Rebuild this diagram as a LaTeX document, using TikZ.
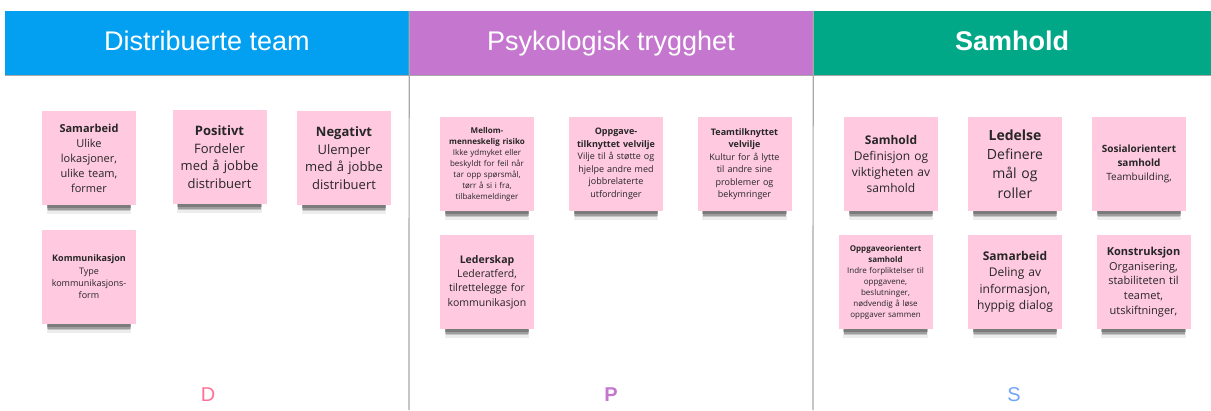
\documentclass[tikz,border=0pt]{standalone}
\usepackage{fontspec}
\usetikzlibrary{shadows}
\newfontfamily\headfont{Liberation Sans}
\newfontfamily\notefont{Open Sans}
\definecolor{dblue}{HTML}{03A0F1}
\definecolor{ppurple}{HTML}{C577D0}
\definecolor{sgreen}{HTML}{00A888}
\definecolor{notepink}{HTML}{FFC9DF}
\definecolor{dline}{HTML}{A8A8A8}
\definecolor{dpink}{HTML}{FF7096}
\definecolor{sblue}{HTML}{6FA6F8}
\newcommand\nsize[2]{\notefont\fontsize{#1}{#2}\selectfont}
\begin{document}
\begin{tikzpicture}[x=1pt, y=-1pt,
   head/.style={minimum width=404pt, minimum height=64pt, inner sep=0pt,
                text height=19.5pt, text depth=5.5pt,
                text=white, font=\headfont\fontsize{27}{30}\selectfont},
   sticky/.style={fill=notepink, text=black!85, align=center,
                  text width=90pt, inner xsep=2pt, inner ysep=0pt,
                  minimum height=94pt,
                  drop shadow={shadow xshift=0pt, shadow yshift=-15pt,
                               shadow scale=.9, fill=black, opacity=.07},
                  drop shadow={shadow xshift=0pt, shadow yshift=-13pt,
                               shadow scale=.88, fill=black, opacity=.17},
                  drop shadow={shadow xshift=0pt, shadow yshift=-11pt,
                               shadow scale=.89, fill=black, opacity=.2},
                  drop shadow={shadow xshift=0pt, shadow yshift=-9pt,
                               shadow scale=.9, fill=black, opacity=.22}},
   divider/.style={draw=dline, line width=1.2pt},
   tag/.style={font=\headfont\fontsize{20}{22}\selectfont}]

\useasboundingbox (0,0) rectangle (1211,410);

% headers
\node[head, fill=dblue] (hD) at (207,43) {Distribuerte team};
\node[head, fill=ppurple] (hP) at (611,43) {Psykologisk trygghet};
\node[head, fill=sgreen, minimum width=398pt] (hS) at (1012,43) {\bfseries Samhold};

\draw[divider] (hD.south west) -- (hS.south east);
\draw[divider] (hD.north east) -- (409,410);
\draw[divider] (hP.north east) -- (813,410);

% Distribuerte team
\node[sticky, font=\nsize{11}{15}] (dSamarbeid) at (89,158)
  {\textbf{Samarbeid}\\Ulike\\lokasjoner,\\ulike team,\\former};
\node[sticky, font=\nsize{13}{17.7}] (dPositivt) at (219.5,157)
  {\textbf{Positivt}\\Fordeler\\med å jobbe\\distribuert};
\node[sticky, font=\nsize{13}{17.7}] (dNegativt) at (344,158)
  {\textbf{Negativt}\\Ulemper\\med å jobbe\\distribuert};
\node[sticky, font=\nsize{9}{12.4}] (dKommunikasjon) at (89,277)
  {\textbf{Kommunikasjon}\\Type\\kommunikasjons-\\form};

% Psykologisk trygghet
\node[sticky, font=\nsize{8}{11}] (pRisiko) at (487,164)
  {\textbf{Mellom-}\\\textbf{menneskelig risiko}\\Ikke ydmyket eller\\beskyldt for feil når\\tar opp spørsmål,\\tørr å si i fra,\\tilbakemeldinger};
\node[sticky, font=\nsize{9}{12.5}] (pOppgave) at (616,164)
  {\textbf{Oppgave-}\\\textbf{tilknyttet velvilje}\\Vilje til å støtte og\\hjelpe andre med\\jobbrelaterte\\utfordringer};
\node[sticky, font=\nsize{9}{12.5}] (pTeam) at (744.5,164)
  {\textbf{Teamtilknyttet}\\\textbf{velvilje}\\Kultur for å lytte\\til andre sine\\problemer og\\bekymringer};
\node[sticky, font=\nsize{10.5}{14.2}] (pLederskap) at (487,282)
  {\textbf{Lederskap}\\Lederatferd,\\tilrettelegge for\\kommunikasjon};

% Samhold
\node[sticky, font=\nsize{12}{16.3}] (sSamhold) at (891,164)
  {\textbf{Samhold}\\Definisjon og\\viktigheten av\\samhold};
\node[sticky, font=\nsize{14}{19.4}] (sLedelse) at (1015,164)
  {\textbf{Ledelse}\\Definere\\mål og\\roller};
\node[sticky, font=\nsize{10}{14}] (sSosial) at (1139,164)
  {\textbf{Sosialorientert}\\\textbf{samhold}\\Teambuilding,};
\node[sticky, font=\nsize{8}{11}] (sOppgave) at (885.5,282)
  {\textbf{Oppgaveorientert}\\\textbf{samhold}\\Indre forpliktelser til\\oppgavene,\\beslutninger,\\nødvendig å løse\\oppgaver sammen};
\node[sticky, font=\nsize{12}{16.3}] (sSamarbeid) at (1015,282)
  {\textbf{Samarbeid}\\Deling av\\informasjon,\\hyppig dialog};
\node[sticky, font=\nsize{11}{14.8}] (sKonstruksjon) at (1143.5,282)
  {\textbf{Konstruksjon}\\Organisering,\\stabiliteten til\\teamet,\\utskiftninger,};

% bokstaver
\node[tag, text=dpink] (tD) at (208,395) {D};
\node[tag, text=ppurple] (tP) at (611,395) {\bfseries P};
\node[tag, text=sblue] (tS) at (1014,395) {S};

\end{tikzpicture}
\end{document}
